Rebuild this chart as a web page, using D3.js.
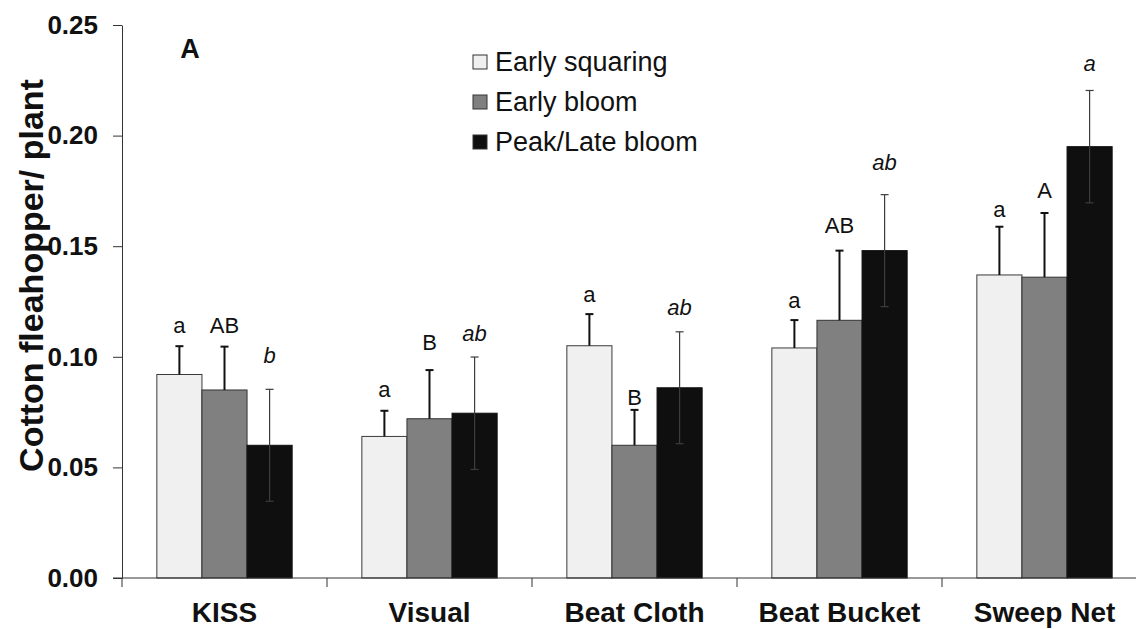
<!DOCTYPE html>
<html>
<head>
<meta charset="utf-8">
<script src="https://cdn.jsdelivr.net/npm/d3@7"></script>
<style>
  body { margin: 0; background: #fff; }
  text { font-family: "Liberation Sans", Arial, sans-serif; }
</style>
</head>
<body>
<script>
// Cotton fleahopper per plant by sampling method and crop stage

// ----- Data -----
var categories = ["KISS", "Visual", "Beat Cloth", "Beat Bucket", "Sweep Net"];
var seriesNames = ["Early squaring", "Early bloom", "Peak/Late bloom"];

var earlySquaring = [0.092, 0.064, 0.105, 0.104, 0.137];
var earlyBloom    = [0.085, 0.072, 0.060, 0.1165, 0.136];
var peakLate      = [0.060, 0.0745, 0.086, 0.148, 0.195];

// standard errors
var seEarlySquaring = [0.0128, 0.0116, 0.0143, 0.0126, 0.0218];
var seEarlyBloom    = [0.0196, 0.0220, 0.0160, 0.0315, 0.0290];
var sePeakLate      = [0.0253, 0.0254, 0.0253, 0.0253, 0.0254];

// separation letters and the height (in data units) they sit at
var lettersEarlySquaring = ["a", "a", "a", "a", "a"];
var lettersEarlyBloom    = ["AB", "B", "B", "AB", "A"];
var lettersPeakLate      = ["b", "ab", "ab", "ab", "a"];
var letterYEarlySquaring = [0.1106, 0.0820, 0.1246, 0.1219, 0.1633];
var letterYEarlyBloom    = [0.1106, 0.1031, 0.0782, 0.1558, 0.1717];
var letterYPeakLate      = [0.0973, 0.1073, 0.1189, 0.1845, 0.2291];

var yTicks = [0, 0.05, 0.10, 0.15, 0.20, 0.25];

// ----- Page -----
var W = 1136, H = 629;
var plotLeft = 122, plotRight = 1147, plotTop = 25, plotBottom = 578;

var fills = ["#f0f0f0", "#808080", "#0f0f0f"];
var strokes = ["#3a3a3a", "#333333", "#0f0f0f"];

var svg = d3.select("body")
  .append("svg")
  .attr("width", W)
  .attr("height", H);

// Scales
var x = d3.scaleBand()
  .domain(categories)
  .range([plotLeft, plotRight])
  .paddingInner(0.34)
  .paddingOuter(0.17);

var x1 = d3.scaleBand()
  .domain(seriesNames)
  .range([0, x.bandwidth()]);

var y = d3.scaleLinear()
  .domain([0, 0.25])
  .range([plotBottom, plotTop]);

// Build rows for the bars
var values = [earlySquaring, earlyBloom, peakLate];
var errors = [seEarlySquaring, seEarlyBloom, sePeakLate];
var letters = [lettersEarlySquaring, lettersEarlyBloom, lettersPeakLate];
var letterYs = [letterYEarlySquaring, letterYEarlyBloom, letterYPeakLate];

var rows = [];
categories.forEach(function(c, i) {
  seriesNames.forEach(function(s, j) {
    rows.push({
      cat: c, series: s, k: j,
      value: values[j][i],
      se: errors[j][i],
      letter: letters[j][i],
      letterY: letterYs[j][i]
    });
  });
});

// ----- Bars -----
svg.selectAll(".bar")
  .data(rows)
  .enter().append("rect")
  .attr("class", "bar")
  .attr("x", function(d) { return x(d.cat) + x1(d.series); })
  .attr("y", function(d) { return y(d.value); })
  .attr("width", x1.bandwidth())
  .attr("height", function(d) { return y(0) - y(d.value); })
  .attr("fill", function(d) { return fills[d.k]; })
  .attr("stroke", function(d) { return strokes[d.k]; })
  .attr("stroke-width", 1);

// ----- Error bars -----
var cap = 4;
var err = svg.selectAll(".err")
  .data(rows)
  .enter().append("g")
  .attr("class", "err")
  .attr("transform", function(d) {
    return "translate(" + (x(d.cat) + x1(d.series) + x1.bandwidth() / 2) + ",0)";
  });

// upper whisker only for the first two stages, both sides for peak
err.append("line")
  .attr("x1", 0).attr("x2", 0)
  .attr("y1", function(d) { return d.k == 2 ? y(d.value - d.se) : y(d.value); })
  .attr("y2", function(d) { return y(d.value + d.se); })
  .attr("stroke", function(d) { return d.k == 2 ? "#3c3c3c" : "#111"; })
  .attr("stroke-width", function(d) { return d.k == 2 ? 1.2 : 2; });

err.append("line")
  .attr("x1", -cap).attr("x2", cap)
  .attr("y1", function(d) { return y(d.value + d.se); })
  .attr("y2", function(d) { return y(d.value + d.se); })
  .attr("stroke", function(d) { return d.k == 2 ? "#3c3c3c" : "#111"; })
  .attr("stroke-width", function(d) { return d.k == 2 ? 1.2 : 2; });

err.filter(function(d) { return d.k == 2; }).append("line")
  .attr("x1", -cap).attr("x2", cap)
  .attr("y1", function(d) { return y(d.value - d.se); })
  .attr("y2", function(d) { return y(d.value - d.se); })
  .attr("stroke", "#3c3c3c")
  .attr("stroke-width", 1.2);

// ----- Letters -----
err.append("text")
  .attr("x", 0)
  .attr("y", function(d) { return y(d.letterY); })
  .attr("text-anchor", "middle")
  .attr("font-size", "22px")
  .attr("font-style", function(d) { return d.k == 2 ? "italic" : "normal"; })
  .attr("fill", "#111")
  .text(function(d) { return d.letter; });

// ----- Axes -----
var yAxis = d3.axisLeft(y)
  .tickValues(yTicks)
  .tickFormat(d3.format(".2f"))
  .tickSize(9)
  .tickSizeOuter(0)
  .tickPadding(15);

var gy = svg.append("g")
  .attr("class", "y axis")
  .attr("transform", "translate(" + plotLeft + ",0)")
  .call(yAxis);
gy.select(".domain").attr("stroke", "#333");
gy.selectAll(".tick line").attr("stroke", "#333");
gy.selectAll(".tick text")
  .attr("font-size", "26px")
  .attr("font-weight", "bold")
  .attr("fill", "#111")
  .attr("font-family", "'Liberation Sans', Arial, sans-serif");

// x axis line and boundary ticks
svg.append("line")
  .attr("x1", plotLeft - 9).attr("x2", W)
  .attr("y1", y(0)).attr("y2", y(0))
  .attr("stroke", "#333");

var edges = categories.map(function(c) { return x(c) - (x.step() - x.bandwidth()) / 2; });
edges.push(plotRight);
svg.selectAll(".xtick")
  .data(edges)
  .enter().append("line")
  .attr("class", "xtick")
  .attr("x1", function(d) { return d; }).attr("x2", function(d) { return d; })
  .attr("y1", y(0)).attr("y2", y(0) + 9)
  .attr("stroke", "#333");

var xAxis = d3.axisBottom(x).tickSize(0).tickPadding(24);
var gx = svg.append("g")
  .attr("class", "x axis")
  .attr("transform", "translate(0," + y(0) + ")")
  .call(xAxis);
gx.select(".domain").remove();
gx.selectAll(".tick text")
  .attr("font-size", "28px")
  .attr("font-weight", "bold")
  .attr("fill", "#111")
  .attr("font-family", "'Liberation Sans', Arial, sans-serif");

// y axis title
svg.append("text")
  .attr("transform", "translate(43," + ((80 + 471) / 2) + ") rotate(-90)")
  .attr("text-anchor", "middle")
  .attr("font-size", "34px")
  .attr("font-weight", "bold")
  .attr("fill", "#111")
  .text("Cotton fleahopper/ plant");

// panel letter
svg.append("text")
  .attr("x", 190)
  .attr("y", 58)
  .attr("text-anchor", "middle")
  .attr("font-size", "27px")
  .attr("font-weight", "bold")
  .attr("fill", "#111")
  .text("A");

// ----- Legend -----
var legend = svg.selectAll(".legend")
  .data(seriesNames)
  .enter().append("g")
  .attr("class", "legend")
  .attr("transform", function(d, i) { return "translate(473," + (55 + i * 40) + ")"; });

legend.append("rect")
  .attr("width", 14)
  .attr("height", 14)
  .attr("fill", function(d, i) { return fills[i]; })
  .attr("stroke", "#333");

legend.append("text")
  .attr("x", 22)
  .attr("y", 16)
  .attr("font-size", "27px")
  .attr("fill", "#111")
  .text(function(d) { return d; });
</script>
</body>
</html>
